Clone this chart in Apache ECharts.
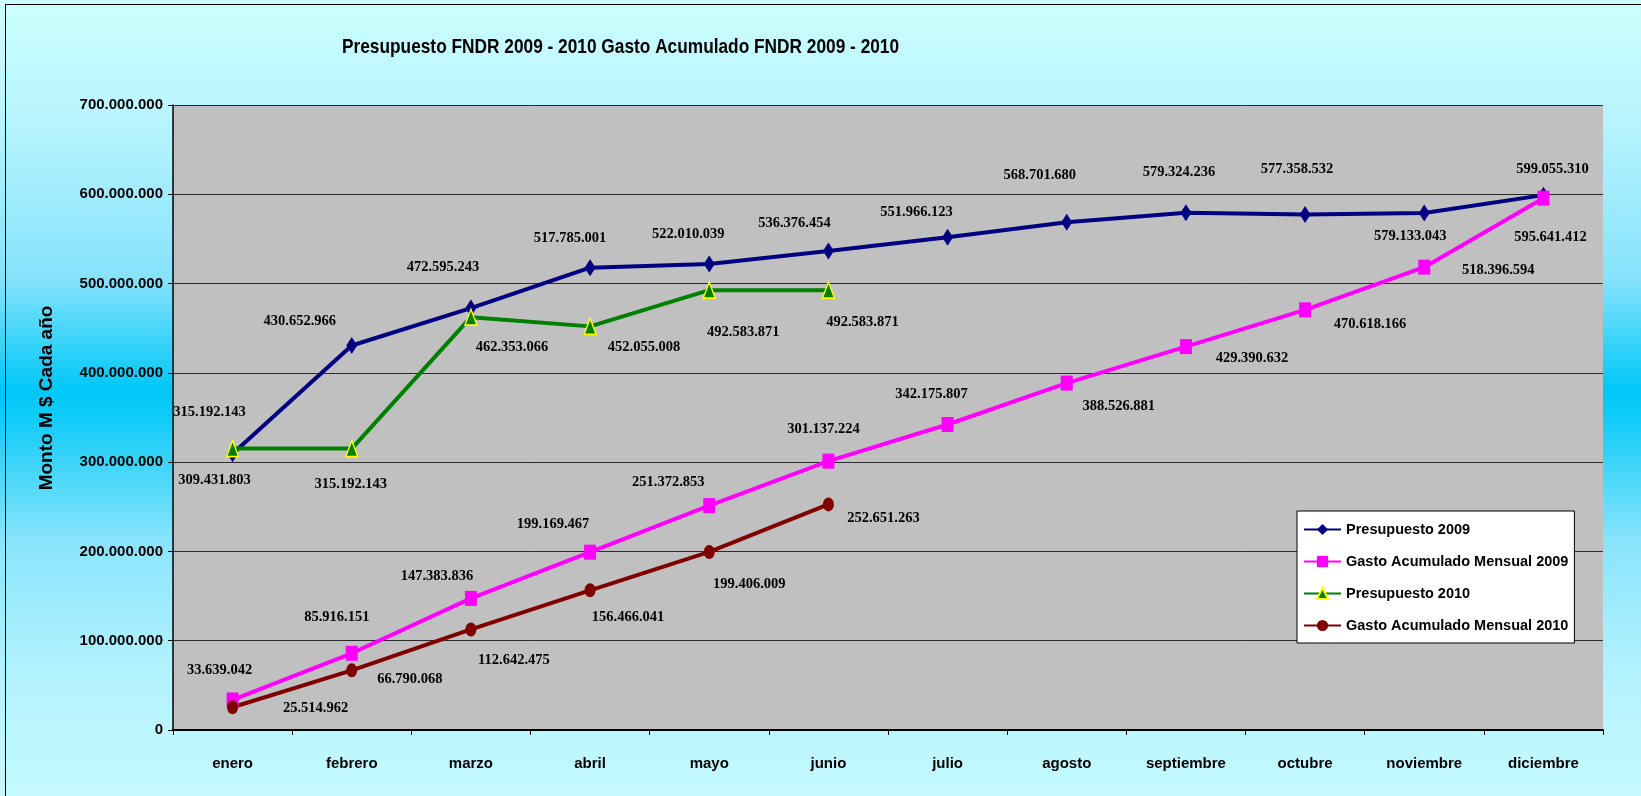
<!DOCTYPE html>
<html>
<head>
<meta charset="utf-8">
<script src="https://cdn.jsdelivr.net/npm/echarts@6/dist/echarts.min.js"></script>
<style>
  html, body { margin: 0; padding: 0; width: 1641px; height: 796px; overflow: hidden; }
  body {
    background: linear-gradient(to bottom, #ccffff 0%, #b8f4fe 15%, #86e2fc 35%, #00c8f8 49%, #14ccf8 53%, #8ae4fc 68%, #b4f2fe 85%, #c4faff 100%);
  }
  #frame { position: absolute; left: 5px; top: 4px; width: 1700px; height: 900px; border-left: 1px solid #000; border-top: 1px solid #000; }
  #chart { position: absolute; left: 0; top: 0; width: 1641px; height: 796px; }
</style>
</head>
<body>
<div id="frame"></div>
<div id="chart"></div>
<script>
const months = ['enero','febrero','marzo','abril','mayo','junio','julio','agosto','septiembre','octubre','noviembre','diciembre'];
const presupuesto2009 = [309431803, 430652966, 472595243, 517785001, 522010039, 536376454, 551966123, 568701680, 579324236, 577358532, 579133043, 599055310];
const gasto2009 = [33639042, 85916151, 147383836, 199169467, 251372853, 301137224, 342175807, 388526881, 429390632, 470618166, 518396594, 595641412];
const presupuesto2010 = [315192143, 315192143, 462353066, 452055008, 492583871, 492583871];
const gasto2010 = [25514962, 66790068, 112642475, 156466041, 199406009, 252651263];
const seriesNames = ['Presupuesto 2009', 'Gasto Acumulado Mensual 2009', 'Presupuesto 2010', 'Gasto Acumulado Mensual 2010'];
const titleText = 'Presupuesto FNDR 2009 - 2010 Gasto Acumulado FNDR 2009 - 2010';
const yAxisName = 'Monto M $ Cada año';
const yTicks = { min: 0, max: 700000000, interval: 100000000 };

// label placement offsets (pixels, relative to each marker)
const p09Off = [[-18,27],[-52,-24],[-28,-41],[-20,-29],[-21,-30],[-34,-28],[-31,-25],[-27,-47],[-7,-40],[-8,-45],[-14,23],[9,-26]];
const g09Off = [[-13,-30],[-15,-36],[-34,-22],[-37,-28],[-41,-23],[-5,-32],[-16,-30],[52,23],[66,12],[65,14],[74,3],[7,39]];
const p10Off = [[-23,-36],[-1,36],[41,30],[54,21],[34,42],[34,32]];
const g10Off = [[83,1],[58,9],[43,31],[38,27],[40,32],[55,14]];

function fmt(v) { return String(v).replace(/\B(?=(\d{3})+(?!\d))/g, '.'); }
const sans = '"Liberation Sans", Arial, sans-serif';
const serif = '"Liberation Serif", "Times New Roman", serif';

function build(values, offs) {
  return values.map((v, i) => ({ value: v, label: { offset: offs[i] } }));
}
const labelStyle = {
  show: true, position: 'inside', formatter: p => fmt(p.value),
  fontFamily: serif, fontWeight: 'bold', fontSize: 14.5, color: '#000'
};

const chart = echarts.init(document.getElementById('chart'), null, { renderer: 'canvas' });
chart.setOption({
  backgroundColor: 'transparent',
  animation: false,
  legend: {
    orient: 'vertical', left: 1297, top: 511,
    padding: [11, 6, 10, 6], itemGap: 17, itemWidth: 37, itemHeight: 14,
    backgroundColor: '#ffffff', borderColor: '#000', borderWidth: 1,
    textStyle: { fontFamily: sans, fontWeight: 'bold', fontSize: 14.5, color: '#000' },
    data: seriesNames
  },
  grid: {
    left: 173, right: 38, top: 105, bottom: 66,
    show: true, backgroundColor: '#c0c0c0', borderWidth: 0
  },
  graphic: [
    {
      type: 'text', x: 342, y: 47, scaleX: 0.823,
      style: { text: titleText, fontFamily: sans, fontWeight: 'bold', fontSize: 21, fill: '#000', align: 'left', verticalAlign: 'middle' }
    },
    {
      type: 'text', x: 47, y: 398, rotation: Math.PI / 2,
      style: { text: yAxisName, fontFamily: sans, fontWeight: 'bold', fontSize: 19, fill: '#000', align: 'center', verticalAlign: 'middle' }
    }
  ],
  xAxis: {
    type: 'category', data: months, boundaryGap: true,
    axisLine: { lineStyle: { color: '#000', width: 2 } },
    axisTick: { show: true, length: 5, interval: 0, lineStyle: { color: '#000' } },
    axisLabel: { margin: 26, interval: 0, fontFamily: sans, fontWeight: 'bold', fontSize: 15, color: '#000' },
    splitLine: { show: false }
  },
  yAxis: {
    type: 'value', min: yTicks.min, max: yTicks.max, interval: yTicks.interval,
    axisLine: { show: true, lineStyle: { color: '#000', width: 1.5 } },
    axisTick: { show: true, length: 5, lineStyle: { color: '#000' } },
    axisLabel: { margin: 10, formatter: v => fmt(v), fontFamily: sans, fontWeight: 'bold', fontSize: 15, color: '#000' },
    splitLine: { show: true, lineStyle: { color: '#2a2a2a', width: 1 } }
  },
  series: [
    {
      name: seriesNames[0], type: 'line', data: build(presupuesto2009, p09Off),
      symbol: 'diamond', symbolSize: [11, 17], lineStyle: { color: '#000080', width: 4 },
      itemStyle: { color: '#000080' }, label: labelStyle
    },
    {
      name: seriesNames[1], type: 'line', data: build(gasto2009, g09Off),
      symbol: 'rect', symbolSize: [12, 15], lineStyle: { color: '#ff00ff', width: 4 },
      itemStyle: { color: '#ff00ff' }, label: labelStyle
    },
    {
      name: seriesNames[2], type: 'line', data: build(presupuesto2010, p10Off),
      symbol: 'triangle', symbolSize: [12, 16], lineStyle: { color: '#008000', width: 4 },
      itemStyle: { color: '#008000', borderColor: '#ffff00', borderWidth: 1.5 }, label: labelStyle
    },
    {
      name: seriesNames[3], type: 'line', data: build(gasto2010, g10Off),
      symbol: 'circle', symbolSize: [11, 14], lineStyle: { color: '#800000', width: 4 },
      itemStyle: { color: '#800000' }, label: labelStyle
    }
  ]
});
</script>
</body>
</html>
